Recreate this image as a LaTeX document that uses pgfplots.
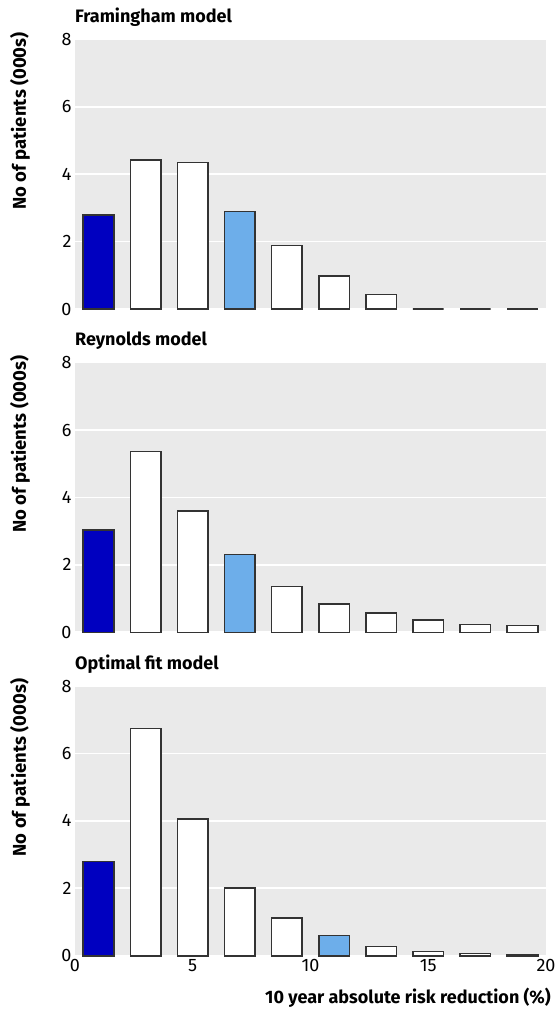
\documentclass[border=0pt]{standalone}
\usepackage{fontspec}
\setmainfont{Fira Sans}
\usepackage{pgfplots}
\pgfplotsset{compat=1.18}
\definecolor{darkblue}{HTML}{0000C0}
\definecolor{lightblue}{HTML}{6DAEEA}
\definecolor{bg}{HTML}{EAEAEA}
\definecolor{edge}{HTML}{333333}
\pgfplotsset{
  panel/.style={
    scale only axis, width=471pt, height=269.7pt,
    xmin=0, xmax=20, ymin=0, ymax=8,
    ytick={0,2,4,6,8},
    xtick={0,5,10,15,20},
    axis background/.style={fill=bg},
    axis line style={draw=none},
    major tick length=0pt,
    ymajorgrids, major grid style={white, line width=1.7pt},
    tick label style={font=\fontsize{18}{18}\selectfont},
    /pgf/number format/assume math mode=true,
    title style={at={(axis description cs:0,1)}, anchor=base west, yshift=11pt, inner sep=0pt, font=\bfseries\fontsize{18}{18}\selectfont},
    ylabel style={at={(axis description cs:-0.1168,1.027)}, anchor=east, inner sep=0pt, font=\bfseries\fontsize{18.5}{18.5}\selectfont},
    ylabel={No of patients (000s)},
    clip=false,
  },
  bars/.style={ybar, bar width=1.3, bar shift=0pt, draw=edge, line width=1.6pt},
}
\begin{document}
\begin{tikzpicture}[x=1pt,y=1pt]
\useasboundingbox (0,0) rectangle (558,-1014);
% Framingham
\begin{axis}[panel, at={(75pt,-309pt)}, anchor=south west, title={Framingham model}, xticklabels={}]
\addplot[bars, fill=white] coordinates {(3,4.42) (5,4.35) (9,1.88) (11,0.98) (13,0.43) (15,0) (17,0) (19,0)};
\addplot[bars, fill=darkblue] coordinates {(1,2.79)};
\addplot[bars, fill=lightblue] coordinates {(7,2.89)};
\end{axis}
% Reynolds
\begin{axis}[panel, at={(75pt,-632.3pt)}, anchor=south west, title={Reynolds model}, xticklabels={}]
\addplot[bars, fill=white] coordinates {(3,5.36) (5,3.60) (9,1.36) (11,0.84) (13,0.57) (15,0.37) (17,0.23) (19,0.20)};
\addplot[bars, fill=darkblue] coordinates {(1,3.03)};
\addplot[bars, fill=lightblue] coordinates {(7,2.31)};
\end{axis}
% Optimal fit
\begin{axis}[panel, at={(75pt,-955.7pt)}, anchor=south west, title={Optimal fit model},
  xlabel={10 year absolute risk reduction (\%)},
  xlabel style={at={(axis description cs:1,0)}, anchor=base east, xshift=5pt, yshift=-47.3pt, inner sep=0pt, font=\bfseries\fontsize{18}{18}\selectfont}]
\addplot[bars, fill=white] coordinates {(3,6.74) (5,4.06) (7,2.00) (9,1.11) (13,0.27) (15,0.12) (17,0.06) (19,0.04)};
\addplot[bars, fill=darkblue] coordinates {(1,2.79)};
\addplot[bars, fill=lightblue] coordinates {(11,0.60)};
\end{axis}
\end{tikzpicture}
\end{document}
